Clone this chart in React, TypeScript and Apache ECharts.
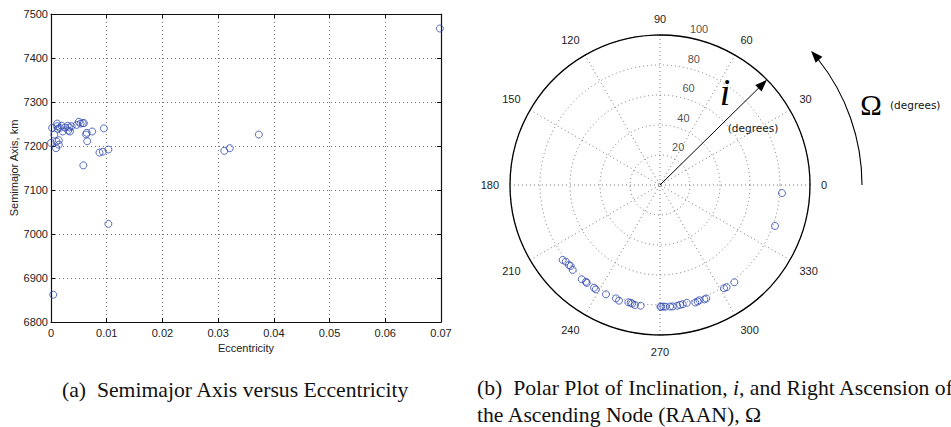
import React, { useEffect, useRef } from "react";
import * as echarts from "echarts";

// ---- Left panel: semimajor axis vs eccentricity ----
const eccentricity = [
  0.0, 0.0002, 0.0006, 0.0004, 0.0009, 0.001, 0.0011, 0.0011, 0.0012, 0.0014, 0.0014,
  0.0016, 0.0019, 0.0021, 0.0025, 0.003, 0.0031, 0.0033, 0.0034, 0.0037, 0.0046,
  0.005, 0.0053, 0.0057, 0.0059, 0.0058, 0.0063, 0.0064, 0.0065, 0.0074, 0.0087,
  0.0093, 0.0095, 0.0103, 0.0103, 0.0311, 0.0321, 0.0373, 0.0698,
];
const semimajorAxis = [
  7207, 7241, 7226, 6862, 7195, 7210, 7251, 7245, 7239, 7213, 7203,
  7241, 7246, 7233, 7242, 7246, 7235, 7242, 7233, 7245, 7248,
  7255, 7251, 7252, 7252, 7156, 7226, 7230, 7211, 7233, 7185,
  7187, 7240, 7192, 7023, 7189, 7195, 7226, 7467,
];
const eccTickMin = 0;
const eccTickMax = 0.07;
const eccTickStep = 0.01;
const smaTickMin = 6800;
const smaTickMax = 7500;
const smaTickStep = 100;

// ---- Right panel: polar plot of inclination (radius) vs RAAN (angle) ----
const raan = [
  217.6, 219.1, 221.3, 222.2, 224.2, 230.3, 232.6, 233.2, 237.3, 238.4,
  243.7, 248.8, 250.5, 254.9, 256.0, 256.8, 258.2, 260.9, 270.2, 270.6,
  271.6, 272.6, 274.7, 276.0, 278.1, 279.5, 280.8, 282.8, 286.7, 287.9,
  288.9, 291.2, 292.2, 301.8, 303.1, 307.4, 340.4, 356.2,
];
const inclination = [
  81.9, 81.0, 80.8, 80.4, 81.2, 81.7, 81.2, 81.5, 81.4, 81.7,
  81.3, 81.1, 81.8, 81.0, 80.9, 81.2, 81.7, 81.5, 81.2, 81.1,
  81.1, 81.2, 81.3, 81.4, 81.3, 81.0, 80.9, 80.6, 81.8, 81.6,
  81.2, 81.8, 81.7, 81.0, 81.3, 81.6, 81.4, 81.5,
];
const radiusTicks = [20, 40, 60, 80, 100];
const radiusLabelAngle = 80;
const inclinationArrowAngle = 44.5;
const angleTickStep = 30;

// ---- layout constants ----
const POLAR_CX = 660;
const POLAR_CY = 185;
const POLAR_R = 150;
const OMEGA_ARC_R = 202;
const OMEGA_ARC_END_DEG = 41.6;

const BLUE = "#3048b0";
const SANS = "'Liberation Sans', Arial, sans-serif";
const SERIF = "'Liberation Serif', 'Times New Roman', serif";
const TEXT = "#222";
const CAPTION_SIZE = 21.7;

function arrowHead(tipX: number, tipY: number, dx: number, dy: number, len: number, halfW: number) {
  const n = Math.hypot(dx, dy);
  const ux = dx / n, uy = dy / n;
  const bx = tipX - ux * len, by = tipY - uy * len;
  const px = -uy, py = ux;
  return [
    [tipX, tipY],
    [bx + px * halfW, by + py * halfW],
    [bx - px * halfW, by - py * halfW],
  ];
}

export default function App() {
  const ref = useRef<HTMLDivElement>(null);
  useEffect(() => {
    document.body.style.margin = "0";
    if (!ref.current) return;
    const chart = echarts.init(ref.current, undefined, { renderer: "svg" });

    const dotted = { type: [1, 3] as any, color: "#777", width: 1 };
    const axisLine = { show: true, onZero: false, lineStyle: { color: "#111", width: 1.2 } };

    // inclination arrow head
    const ia = (inclinationArrowAngle * Math.PI) / 180;
    const iTipX = POLAR_CX + POLAR_R * Math.cos(ia);
    const iTipY = POLAR_CY - POLAR_R * Math.sin(ia);
    const iHead = arrowHead(iTipX, iTipY, Math.cos(ia), -Math.sin(ia), 12, 4.5);

    // omega arc arrow head
    const oa = (OMEGA_ARC_END_DEG * Math.PI) / 180;
    const oTipX = POLAR_CX + OMEGA_ARC_R * Math.cos(oa);
    const oTipY = POLAR_CY - OMEGA_ARC_R * Math.sin(oa);
    const oHead = arrowHead(oTipX, oTipY, -Math.sin(oa), -Math.cos(oa), 12, 4.5);
    const arcEnd = oa - 10 / OMEGA_ARC_R;

    chart.setOption({
      animation: false,
      backgroundColor: "#fff",
      textStyle: { fontFamily: SANS },
      grid: { left: 51, top: 14, right: 510, bottom: 105, containLabel: false },
      xAxis: [
        {
          type: "value",
          position: "bottom",
          min: eccTickMin,
          max: eccTickMax,
          interval: eccTickStep,
          name: "Eccentricity",
          nameLocation: "middle",
          nameGap: 15,
          nameTextStyle: { fontSize: 11, color: TEXT, fontFamily: SANS, verticalAlign: "top" },
          axisLine,
          axisTick: { show: true, inside: true, length: 4, lineStyle: { color: "#111" } },
          axisLabel: {
            margin: 5,
            fontSize: 11,
            color: TEXT,
            fontFamily: SANS,
            formatter: (v: number) => String(parseFloat(v.toFixed(3))),
          },
          splitLine: { show: true, lineStyle: dotted },
        },
        {
          type: "value",
          position: "top",
          min: eccTickMin,
          max: eccTickMax,
          interval: eccTickStep,
          axisLine,
          axisTick: { show: true, inside: true, length: 4, lineStyle: { color: "#111" } },
          axisLabel: { show: false },
          splitLine: { show: false },
        },
      ],
      yAxis: [
        {
          type: "value",
          position: "left",
          min: smaTickMin,
          max: smaTickMax,
          interval: smaTickStep,
          name: "Semimajor Axis, km",
          nameLocation: "middle",
          nameGap: 31,
          nameTextStyle: { fontSize: 11, color: TEXT, fontFamily: SANS },
          axisLine,
          axisTick: { show: true, inside: true, length: 4, lineStyle: { color: "#111" } },
          axisLabel: {
            margin: 3,
            fontSize: 11,
            color: TEXT,
            fontFamily: SANS,
            formatter: (v: number) => String(Math.round(v)),
          },
          splitLine: { show: true, lineStyle: dotted },
        },
        {
          type: "value",
          position: "right",
          min: smaTickMin,
          max: smaTickMax,
          interval: smaTickStep,
          axisLine,
          axisTick: { show: true, inside: true, length: 4, lineStyle: { color: "#111" } },
          axisLabel: { show: false },
          splitLine: { show: false },
        },
      ],
      polar: { center: [POLAR_CX, POLAR_CY], radius: POLAR_R },
      angleAxis: {
        type: "value",
        min: 0,
        max: 360,
        interval: angleTickStep,
        startAngle: 0,
        clockwise: false,
        axisLine: { show: true, lineStyle: { color: "#000", width: 1.3 } },
        axisTick: { show: false },
        axisLabel: { margin: 11, fontSize: 11, color: TEXT, fontFamily: SANS },
        splitLine: { show: true, lineStyle: dotted },
      },
      radiusAxis: {
        type: "value",
        min: 0,
        max: radiusTicks[radiusTicks.length - 1],
        interval: radiusTicks[1] - radiusTicks[0],
        axisLine: { show: false },
        axisTick: { show: false },
        axisLabel: { show: false },
        splitLine: { show: true, lineStyle: dotted },
      },
      series: [
        {
          type: "scatter",
          xAxisIndex: 0,
          yAxisIndex: 0,
          symbol: "circle",
          symbolSize: 7,
          itemStyle: { color: "transparent", borderColor: BLUE, borderWidth: 1 },
          data: eccentricity.map((e, i) => [e, semimajorAxis[i]]),
          silent: true,
        },
        {
          type: "scatter",
          coordinateSystem: "polar",
          symbol: "circle",
          symbolSize: 7,
          itemStyle: { color: "transparent", borderColor: BLUE, borderWidth: 1 },
          data: raan.map((a, i) => [inclination[i], a]),
          silent: true,
        },
        {
          type: "scatter",
          coordinateSystem: "polar",
          symbolSize: 0,
          itemStyle: { color: "transparent" },
          label: {
            show: true,
            position: "inside",
            offset: [13, -8],
            fontSize: 11,
            color: TEXT,
            fontFamily: SANS,
            formatter: (p: any) => String(p.value[0]),
          },
          data: radiusTicks.map((r) => [r, radiusLabelAngle]),
          silent: true,
        },
        {
          type: "line",
          coordinateSystem: "polar",
          symbol: "none",
          lineStyle: { color: "#000", width: 1 },
          data: [
            [0, inclinationArrowAngle],
            [radiusTicks[radiusTicks.length - 1] * 0.95, inclinationArrowAngle],
          ],
          silent: true,
        },
      ],
      graphic: [
        { type: "polygon", shape: { points: iHead }, style: { fill: "#000" }, silent: true },
        {
          type: "arc",
          shape: { cx: POLAR_CX, cy: POLAR_CY, r: OMEGA_ARC_R, startAngle: -arcEnd, endAngle: 0, clockwise: true },
          style: { stroke: "#000", fill: "none", lineWidth: 1.1 },
          silent: true,
        },
        { type: "polygon", shape: { points: oHead }, style: { fill: "#000" }, silent: true },
        {
          type: "text",
          x: 725,
          y: 111,
          style: {
            text: "i",
            font: `italic 38px ${SERIF}`,
            fill: "#000",
            textAlign: "center",
            align: "center",
            textVerticalAlign: "bottom",
            verticalAlign: "bottom",
          },
          silent: true,
        },
        {
          type: "text",
          x: 753,
          y: 128,
          style: {
            text: "(degrees)",
            font: `10.5px 'DejaVu Sans', sans-serif`,
            fill: "#111",
            textAlign: "center",
            align: "center",
            textVerticalAlign: "middle",
            verticalAlign: "middle",
          },
          silent: true,
        },
        {
          type: "text",
          x: 871,
          y: 105,
          style: {
            text: "Ω",
            font: `29px ${SERIF}`,
            fill: "#000",
            textAlign: "center",
            align: "center",
            textVerticalAlign: "middle",
            verticalAlign: "middle",
          },
          silent: true,
        },
        {
          type: "text",
          x: 890,
          y: 105,
          style: {
            text: "(degrees)",
            font: `10.5px 'DejaVu Sans', sans-serif`,
            fill: "#111",
            textAlign: "left",
            align: "left",
            textVerticalAlign: "middle",
            verticalAlign: "middle",
          },
          silent: true,
        },
        {
          type: "text",
          x: 62,
          y: 390,
          style: {
            text: "(a)\u2002Semimajor Axis versus Eccentricity",
            font: `${CAPTION_SIZE}px ${SERIF}`,
            fill: "#111",
            textAlign: "left",
            align: "left",
            textVerticalAlign: "middle",
            verticalAlign: "middle",
          },
          silent: true,
        },
        {
          type: "text",
          x: 477,
          y: 388,
          style: {
            text: "(b)\u2002Polar Plot of Inclination, {it|i}, and Right Ascension of",
            font: `${CAPTION_SIZE}px ${SERIF}`,
            fill: "#111",
            textAlign: "left",
            align: "left",
            textVerticalAlign: "middle",
            verticalAlign: "middle",
            rich: { it: { fontStyle: "italic", fontFamily: SERIF, fontSize: CAPTION_SIZE, fill: "#111" } },
          },
          silent: true,
        },
        {
          type: "text",
          x: 477,
          y: 415,
          style: {
            text: "the Ascending Node (RAAN), Ω",
            font: `${CAPTION_SIZE}px ${SERIF}`,
            fill: "#111",
            textAlign: "left",
            align: "left",
            textVerticalAlign: "middle",
            verticalAlign: "middle",
          },
          silent: true,
        },
      ],
    });
    return () => chart.dispose();
  }, []);
  return <div ref={ref} style={{ width: 951, height: 427 }} />;
}
